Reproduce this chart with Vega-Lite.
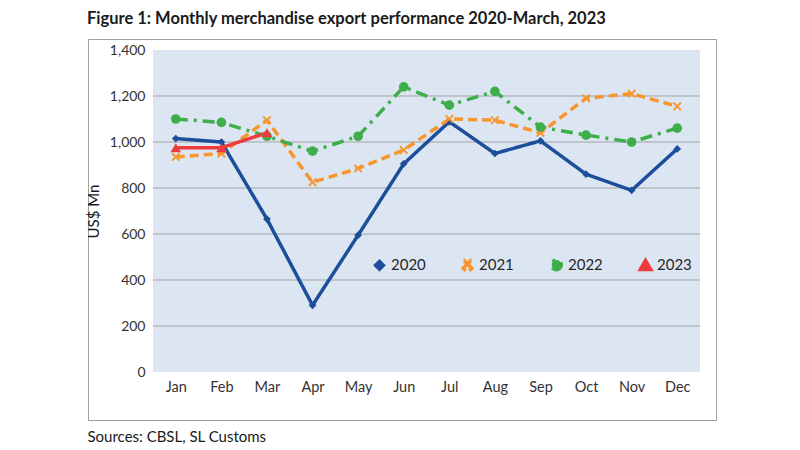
{
  "$schema": "https://vega.github.io/schema/vega-lite/v6.json",
  "width": 628,
  "height": 381,
  "autosize": {"type": "none"},
  "padding": {"left": 88, "top": 39, "right": 84, "bottom": 30},
  "background": "white",
  "title": {
    "text": "Figure 1: Monthly merchandise export performance 2020-March, 2023",
    "anchor": "start",
    "frame": "group",
    "font": "Lato",
    "fontSize": 16.5,
    "fontWeight": "bold",
    "color": "#1a1a1a",
    "offset": 12,
    "dx": -1
  },
  "config": {
    "view": {"stroke": "#A0A0A0", "strokeWidth": 1},
    "font": "Lato"
  },
  "datasets": {
    "series": [
      {"year": "2020", "m": 1, "value": 1015},
      {"year": "2020", "m": 2, "value": 1000},
      {"year": "2020", "m": 3, "value": 665},
      {"year": "2020", "m": 4, "value": 290},
      {"year": "2020", "m": 5, "value": 595},
      {"year": "2020", "m": 6, "value": 905},
      {"year": "2020", "m": 7, "value": 1088},
      {"year": "2020", "m": 8, "value": 950},
      {"year": "2020", "m": 9, "value": 1005},
      {"year": "2020", "m": 10, "value": 860},
      {"year": "2020", "m": 11, "value": 790},
      {"year": "2020", "m": 12, "value": 970},
      {"year": "2021", "m": 1, "value": 935},
      {"year": "2021", "m": 2, "value": 950},
      {"year": "2021", "m": 3, "value": 1095},
      {"year": "2021", "m": 4, "value": 825},
      {"year": "2021", "m": 5, "value": 885},
      {"year": "2021", "m": 6, "value": 965},
      {"year": "2021", "m": 7, "value": 1100},
      {"year": "2021", "m": 8, "value": 1095},
      {"year": "2021", "m": 9, "value": 1040},
      {"year": "2021", "m": 10, "value": 1190},
      {"year": "2021", "m": 11, "value": 1210},
      {"year": "2021", "m": 12, "value": 1155},
      {"year": "2022", "m": 1, "value": 1100},
      {"year": "2022", "m": 2, "value": 1085},
      {"year": "2022", "m": 3, "value": 1025},
      {"year": "2022", "m": 4, "value": 960},
      {"year": "2022", "m": 5, "value": 1025},
      {"year": "2022", "m": 6, "value": 1240},
      {"year": "2022", "m": 7, "value": 1160},
      {"year": "2022", "m": 8, "value": 1220},
      {"year": "2022", "m": 9, "value": 1065},
      {"year": "2022", "m": 10, "value": 1030},
      {"year": "2022", "m": 11, "value": 1000},
      {"year": "2022", "m": 12, "value": 1060},
      {"year": "2023", "m": 1, "value": 975},
      {"year": "2023", "m": 2, "value": 975},
      {"year": "2023", "m": 3, "value": 1040}
    ],
    "plotArea": [
      {"m": 0.5, "m2": 12.5, "value": 0, "value2": 1400}
    ],
    "gridLines": [
      {"m": 0.5, "m2": 12.5, "value": 200},
      {"m": 0.5, "m2": 12.5, "value": 400},
      {"m": 0.5, "m2": 12.5, "value": 600},
      {"m": 0.5, "m2": 12.5, "value": 800},
      {"m": 0.5, "m2": 12.5, "value": 1000},
      {"m": 0.5, "m2": 12.5, "value": 1200}
    ]
  },
  "encoding": {
    "x": {
      "field": "m",
      "type": "quantitative",
      "scale": {"domain": [0.5, 12.5], "range": [65, 612], "nice": false, "zero": false},
      "axis": {
        "values": [1, 2, 3, 4, 5, 6, 7, 8, 9, 10, 11, 12],
        "labelExpr": "['Jan','Feb','Mar','Apr','May','Jun','Jul','Aug','Sep','Oct','Nov','Dec'][datum.value - 1]",
        "grid": false,
        "domain": false,
        "ticks": false,
        "labelFontSize": 14.5,
        "labelColor": "#333333",
        "labelPadding": 8,
        "labelFlush": false,
        "offset": -48,
        "title": "Sources: CBSL, SL Customs",
        "titleX": -1,
        "titleY": 64,
        "titleAlign": "left",
        "titleAnchor": "start",
        "titleBaseline": "middle",
        "titleFontWeight": "normal",
        "titleFontSize": 15,
        "titleColor": "#1a1a1a"
      }
    },
    "y": {
      "field": "value",
      "type": "quantitative",
      "scale": {"domain": [0, 1400], "range": [333, 11], "nice": false},
      "axis": {
        "values": [0, 200, 400, 600, 800, 1000, 1200, 1400],
        "labelExpr": "format(datum.value, ',.0f')",
        "grid": false,
        "domain": false,
        "ticks": false,
        "labelFontSize": 14,
        "labelColor": "#333333",
        "labelPadding": 8,
        "offset": -65,
        "title": "US$ Mn",
        "titleFontSize": 15,
        "titleFontWeight": "normal",
        "titleColor": "#1a1a1a",
        "titlePadding": 8
      }
    }
  },
  "layer": [
    {
      "data": {"name": "plotArea"},
      "mark": {"type": "rect", "color": "#DCE6F2"},
      "encoding": {
        "x2": {"field": "m2"},
        "y2": {"field": "value2"}
      }
    },
    {
      "data": {"name": "gridLines"},
      "mark": {"type": "rule", "color": "#A3A3A3", "strokeWidth": 1},
      "encoding": {
        "x2": {"field": "m2"}
      }
    },
    {
      "data": {"name": "series"},
      "mark": {"type": "line", "strokeCap": "butt", "strokeJoin": "round"},
      "encoding": {
        "color": {
          "field": "year",
          "type": "nominal",
          "scale": {"domain": ["2020", "2021", "2022", "2023"], "range": ["#1C4E9C", "#F7962F", "#3EAE4A", "#EE3B3B"]},
          "legend": {
            "title": null,
            "orient": "none",
            "legendX": 284,
            "legendY": 218,
            "direction": "horizontal",
            "columns": 4,
            "columnPadding": 30,
            "symbolType": "stroke",
            "symbolSize": 324,
            "symbolStrokeWidth": 3.5,
            "labelFontSize": 15,
            "labelColor": "#262626",
            "labelOffset": 4,
            "padding": 0
          }
        },
        "strokeDash": {
          "field": "year",
          "type": "nominal",
          "scale": {"domain": ["2020", "2021", "2022", "2023"], "range": [[1, 0], [9, 5], [12, 6, 3, 6], [1, 0]]}
        },
        "strokeWidth": {
          "field": "year",
          "type": "nominal",
          "scale": {"domain": ["2020", "2021", "2022", "2023"], "range": [3.5, 3.5, 3.2, 4.5]},
          "legend": null
        }
      }
    },
    {
      "data": {"name": "series"},
      "mark": {"type": "point", "filled": true, "opacity": 1, "strokeWidth": 0},
      "encoding": {
        "color": {
          "field": "year",
          "type": "nominal",
          "scale": {"domain": ["2020", "2021", "2022", "2023"], "range": ["#1C4E9C", "#F7962F", "#3EAE4A", "#EE3B3B"]},
          "legend": null
        },
        "shape": {
          "field": "year",
          "type": "nominal",
          "scale": {"domain": ["2020", "2021", "2022", "2023"], "range": ["diamond", "M-0.7,-1L0,-0.3L0.7,-1L1,-0.7L0.3,0L1,0.7L0.7,1L0,0.3L-0.7,1L-1,0.7L-0.3,0L-1,-0.7Z", "circle", "triangle-up"]},
          "legend": null
        },
        "size": {
          "field": "year",
          "type": "nominal",
          "scale": {"domain": ["2020", "2021", "2022", "2023"], "range": [60, 110, 50, 150]},
          "legend": null
        }
      }
    }
  ]
}
